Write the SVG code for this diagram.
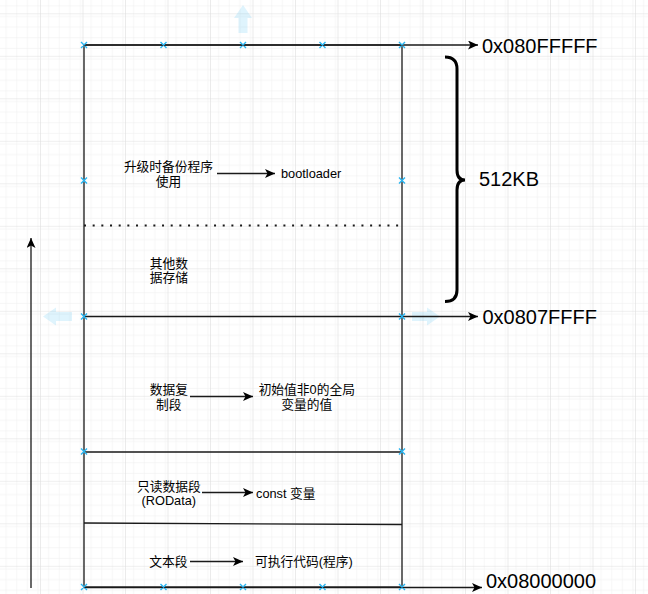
<svg xmlns="http://www.w3.org/2000/svg" width="648" height="594" viewBox="0 0 648 594">
<style>
.ln{stroke:#1a1a1a;stroke-width:1.3;fill:none}
.ar{stroke:#1a1a1a;stroke-width:1.3;fill:none;marker-end:url(#ah)}
.cn{font-family:"Liberation Sans","Noto Sans CJK SC",sans-serif;font-size:12.75px;fill:#000;text-anchor:middle;dominant-baseline:central}
.lt{font-family:"Liberation Sans","Noto Sans CJK SC",sans-serif;font-size:12.75px;fill:#000;dominant-baseline:central}
.big{font-family:"Liberation Sans","Noto Sans CJK SC",sans-serif;font-size:20px;fill:#000}
.hx{stroke:#29b6f2;stroke-width:1.4;fill:none}
.ha{fill:#29b6f2;opacity:0.15}
</style>
<defs>
<pattern id="minor" width="10.625" height="10.625" patternUnits="userSpaceOnUse" x="40" y="13.3">
<path d="M0,0 H10.625 M0,0 V10.625" stroke="#eeeeee" stroke-width="1"/>
</pattern>
<pattern id="major" width="42.5" height="42.5" patternUnits="userSpaceOnUse" x="40" y="13.3">
<rect width="42.5" height="42.5" fill="url(#minor)"/>
<path d="M0,0 H42.5 M0,0 V42.5" stroke="#dedede" stroke-width="1.2"/>
</pattern>
<marker id="ah" markerWidth="11" markerHeight="9" refX="10" refY="4.5" orient="auto" markerUnits="userSpaceOnUse">
<path d="M0,0 L10,4.5 L0,9 L2.5,4.5 Z" fill="#000"/>
</marker>
</defs>
<rect width="648" height="594" fill="#fff"/>
<rect width="648" height="594" fill="url(#major)"/>

<g id="hover-arrows">
<path class="ha" d="M243,5 L252,18 L247.5,18 L247.5,33 L238.5,33 L238.5,18 L234,18 Z"/>
<path class="ha" d="M43,316.5 L56,307.5 L56,312 L72,312 L72,321 L56,321 L56,325.5 Z"/>
<path class="ha" d="M440,316.5 L427,307.5 L427,312 L412,312 L412,321 L427,321 L427,325.5 Z"/>
</g>

<g id="memory">
<rect x="84" y="45" width="318" height="542" fill="#fff" class="ln"/>
</g>

<g id="connectors">
<path class="ar" d="M84,45 H478"/>
<path class="ar" d="M84,316.5 H478"/>
<path class="ar" d="M84,587.5 H482"/>
<path class="ar" d="M31,588 V238"/>
<path d="M84,225.5 H402" stroke="#1a1a1a" stroke-width="2" stroke-dasharray="2 6.67" fill="none"/>
<path class="ln" d="M84,452 H402"/>
<path class="ln" d="M84,523 L402,524.5"/>
<path class="ar" d="M217,173.5 H275"/>
<path class="ar" d="M190,396.5 H253"/>
<path class="ar" d="M202,492.5 H253"/>
<path class="ar" d="M190,561.5 H243"/>
</g>

<g id="handles">
<path class="hx" d="M81,42 l6,6 m0,-6 l-6,6 M160.5,42 l6,6 m0,-6 l-6,6 M240,42 l6,6 m0,-6 l-6,6 M319.5,42 l6,6 m0,-6 l-6,6 M399,42 l6,6 m0,-6 l-6,6"/>
<path class="hx" d="M81,584 l6,6 m0,-6 l-6,6 M160.5,584 l6,6 m0,-6 l-6,6 M240,584 l6,6 m0,-6 l-6,6 M319.5,584 l6,6 m0,-6 l-6,6 M399,584 l6,6 m0,-6 l-6,6"/>
<path class="hx" d="M81,177.5 l6,6 m0,-6 l-6,6 M81,313.5 l6,6 m0,-6 l-6,6 M81,448.5 l6,6 m0,-6 l-6,6"/>
<path class="hx" d="M399,177.5 l6,6 m0,-6 l-6,6 M399,313.5 l6,6 m0,-6 l-6,6 M399,448.5 l6,6 m0,-6 l-6,6"/>
</g>

<g id="brace">
<path d="M445,57 Q457,57 457,69 L457,170 Q457,180 465,180 Q457,180 457,190 L457,290 Q457,301.5 445,301.5" stroke="#000" stroke-width="3" fill="none"/>
</g>

<g id="labels">
<text class="big" x="482" y="53">0x080FFFFF</text>
<text class="big" x="479" y="186">512KB</text>
<text class="big" x="482.5" y="324">0x0807FFFF</text>
<text class="big" x="486" y="588">0x08000000</text>
</g>

<g id="bootloader-area">
<text class="cn" x="168.5" y="166">升级时备份程序</text>
<text class="cn" x="168.5" y="181.5">使用</text>
<text class="lt" x="281" y="173.5">bootloader</text>
</g>

<g id="other-data">
<text class="cn" x="168.8" y="263">其他数</text>
<text class="cn" x="168.8" y="277.5">据存储</text>
</g>

<g id="data-copy">
<text class="cn" x="168.8" y="389.5">数据复</text>
<text class="cn" x="168.8" y="404">制段</text>
<text class="cn" x="306.8" y="389.5">初始值非0的全局</text>
<text class="cn" x="306.8" y="404">变量的值</text>
</g>

<g id="rodata">
<text class="cn" x="168.8" y="486">只读数据段</text>
<text class="cn" x="168.8" y="500.5">(ROData)</text>
<text class="lt" x="256" y="493">const 变量</text>
</g>

<g id="text-seg">
<text class="cn" x="168.3" y="561.5">文本段</text>
<text class="lt" x="255" y="561.5">可执行代码(程序)</text>
</g>
</svg>
